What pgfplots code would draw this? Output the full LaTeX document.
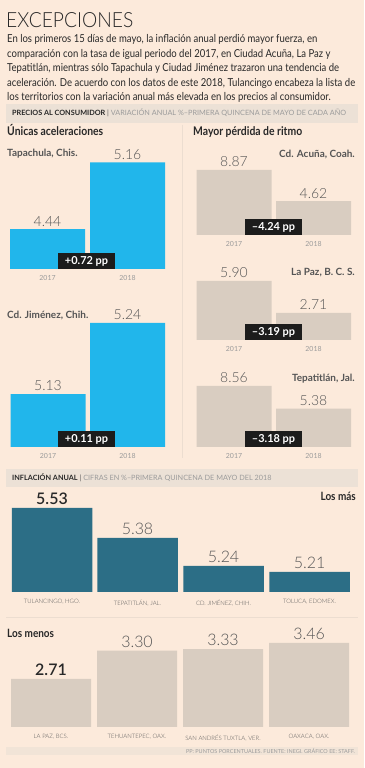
\documentclass[border=0pt]{standalone}
\usepackage{pgfplots}
\pgfplotsset{compat=1.18}
\usepackage{fontspec}
\setmainfont{Lato}
\newfontfamily\lightf{Lato Light}
\newfontfamily\titlef{Lato Light}[FakeStretch=0.92]
\newfontfamily\parafont{Lato}[FakeStretch=0.87]
\definecolor{bg}{RGB}{252,234,219}
\definecolor{band}{RGB}{236,225,214}
\definecolor{cyanbar}{RGB}{33,182,235}
\definecolor{beigebar}{RGB}{217,205,193}
\definecolor{tealbar}{RGB}{44,110,134}
\definecolor{txt}{RGB}{40,40,40}
\definecolor{gtxt}{RGB}{85,85,85}
\definecolor{ltxt}{RGB}{155,155,155}
\definecolor{boxc}{RGB}{28,28,28}
\definecolor{sepc}{RGB}{236,221,208}
\newcommand{\fs}[1]{\fontsize{#1}{#1}\selectfont}
\pgfplotsset{
  panel/.style={
    scale only axis, anchor=south west, enlargelimits=false,
    axis line style={draw=none}, ytick=\empty, major tick length=0pt,
    ybar, bar width=75bp,
    nodes near coords, point meta=explicit symbolic,
    every node near coord/.append style={anchor=center, yshift=8bp, font=\lightf\fs{14}, text=gtxt},
    xticklabel style={font=\fs{7}, text=ltxt, yshift=-3bp},
  },
  bigpanel/.style={
    panel, width=364bp, xmin=0, xmax=364, height=84bp, bar width=80.5bp,
    every node near coord/.append style={font=\lightf\fs{16}, yshift=1bp},
    xticklabel style={font=\lightf\fs{6}, text=gtxt, yshift=-1bp},
  },
}
\begin{document}
\begin{tikzpicture}[x=1bp,y=1bp]
\useasboundingbox (0,0) rectangle (364,768);
\fill[bg] (0,0) rectangle (364,768);
% title and paragraph
\node[anchor=base west, inner sep=0, font=\titlef\fs{21}, text=txt] at (6,768-28) {EXCEPCIONES};
\begin{scope}[every node/.style={anchor=base west, inner sep=0, font=\parafont\fs{11}, text=txt}]
\node at (7,768-43) {En los primeros 15 días de mayo, la inflación anual perdió mayor fuerza, en};
\node at (7,768-57.5) {comparación con la tasa de igual periodo del 2017, en Ciudad Acuña, La Paz y};
\node at (7,768-72) {Tepatitlán, mientras sólo Tapachula y Ciudad Jiménez trazaron una tendencia de};
\node at (7,768-86.5) {aceleración. De acuerdo con los datos de este 2018, Tulancingo encabeza la lista de};
\node at (7,768-101) {los territorios con la variación anual más elevada en los precios al consumidor.};
\end{scope}
% header band 1
\fill[band] (6,768-104) rectangle (358,768-123);
\node[anchor=base west, inner sep=0, font=\fs{7.3}] at (12,768-116) {\textcolor{txt}{\bfseries PRECIOS AL CONSUMIDOR} \textcolor{gtxt}{|} \textcolor{ltxt}{VARIACIÓN ANUAL \%–PRIMERA QUINCENA DE MAYO DE CADA AÑO}};
\draw[sepc, line width=0.8bp] (182,768-125) -- (182,768-458);
\node[anchor=base west, inner sep=0, font=\parafont\bfseries\fs{12}, text=txt] at (7,768-136) {Únicas aceleraciones};
\node[anchor=base west, inner sep=0, font=\parafont\bfseries\fs{12}, text=txt] at (193,768-136) {Mayor pérdida de ritmo};
\begin{scope}[every node/.style={inner sep=0, font=\bfseries\fs{10}, text=gtxt}]
\node[anchor=base west] at (7,768-156.5) {Tapachula, Chis.};
\node[anchor=base west] at (7,768-318.5) {Cd. Jiménez, Chih.};
\node[anchor=base east] at (355,768-157.5) {Cd. Acuña, Coah.};
\node[anchor=base east] at (355,768-275.5) {La Paz, B. C. S.};
\node[anchor=base east] at (355,768-381.5) {Tepatitlán, Jal.};
\end{scope}
% Tapachula
\begin{axis}[panel, at={(0bp,499bp)}, width=182bp, height=106.5bp, xmin=0, xmax=182, ymin=4.01, ymax=5.16,
  xtick={47.5,127.5}, xticklabels={2017,2018}]
\addplot[fill=cyanbar, draw=none] coordinates {(47.5,4.44) [4.44] (127.5,5.16) [5.16]};
\end{axis}
% Jimenez
\begin{axis}[panel, at={(0bp,321bp)}, width=182bp, height=124bp, xmin=0, xmax=182, ymin=5.048, ymax=5.24,
  xtick={48,127.5}, xticklabels={2017,2018}]
\addplot[fill=cyanbar, draw=none] coordinates {(48,5.13) [5.13] (127.5,5.24) [5.24]};
\end{axis}
% Acuna
\begin{axis}[panel, at={(182bp,533bp)}, width=182bp, height=65bp, xmin=182, xmax=364, ymin=0, ymax=8.87,
  xtick={234,313.5}, xticklabels={2017,2018}]
\addplot[fill=beigebar, draw=none] coordinates {(234,8.87) [8.87] (313.5,4.62) [4.62]};
\end{axis}
% La Paz
\begin{axis}[panel, at={(182bp,428bp)}, width=182bp, height=59bp, xmin=182, xmax=364, ymin=0, ymax=5.90,
  xtick={234,313.5}, xticklabels={2017,2018}]
\addplot[fill=beigebar, draw=none] coordinates {(234,5.90) [5.90] (313.5,2.71) [2.71]};
\end{axis}
% Tepatitlan
\begin{axis}[panel, at={(182bp,321bp)}, width=182bp, height=61bp, xmin=182, xmax=364, ymin=0, ymax=8.56,
  xtick={234,313.5}, xticklabels={2017,2018}]
\addplot[fill=beigebar, draw=none] coordinates {(234,8.56) [8.56] (313.5,5.38) [5.38]};
\end{axis}
% pp boxes
\begin{scope}[every node/.style={fill=boxc, text=white, font=\bfseries\fs{11}, inner sep=0, minimum width=57bp, minimum height=16bp}]
\node at (86.5,768-261.5) {+0.72 pp};
\node at (86.5,768-439.5) {+0.11 pp};
\node at (273.5,768-227) {–4.24 pp};
\node at (273.5,768-332.5) {–3.19 pp};
\node at (273.5,768-439.5) {–3.18 pp};
\end{scope}
% header band 2
\fill[band] (6,768-469) rectangle (358,768-487);
\node[anchor=base west, inner sep=0, font=\fs{7.3}] at (12,768-480.5) {\textcolor{txt}{\bfseries INFLACIÓN ANUAL} \textcolor{gtxt}{|} \textcolor{ltxt}{CIFRAS EN \%–PRIMERA QUINCENA DE MAYO DEL 2018}};
\node[anchor=base east, inner sep=0, font=\parafont\bfseries\fs{11.5}, text=txt] at (356,768-501) {Los más};
% Los mas
\begin{axis}[bigpanel, at={(0bp,176bp)}, ymin=5.11, ymax=5.53,
  xtick={52,137.5,223.5,309.5}, xticklabels={{TULANCINGO, HGO.},{TEPATITLÁN, JAL.},{CD. JIMÉNEZ, CHIH.},{TOLUCA, EDOMEX.}}]
\addplot[fill=tealbar, draw=none] coordinates {(52,5.53) [\textcolor{txt}{\bfseries 5.53}] (137.5,5.38) [5.38] (223.5,5.24) [5.24] (309.5,5.21) [5.21]};
\end{axis}
\draw[sepc, line width=0.8bp] (6,768-617) -- (358,768-617);
\node[anchor=base west, inner sep=0, font=\parafont\bfseries\fs{11.5}, text=txt] at (7,768-638) {Los menos};
% Los menos
\begin{axis}[bigpanel, at={(0bp,41bp)}, ymin=1.71, ymax=3.46, bar width=80bp,
  xtick={51,137,223,309}, xticklabels={{LA PAZ, BCS.},{TEHUANTEPEC, OAX.},{SAN ANDRÉS TUXTLA, VER.},{OAXACA, OAX.}}]
\addplot[fill=beigebar, draw=none] coordinates {(51,2.71) [\textcolor{txt}{\bfseries 2.71}] (137,3.30) [3.30] (223,3.33) [3.33] (309,3.46) [3.46]};
\end{axis}
% footer
\fill[band!70!bg] (6,768-747) rectangle (358,768-755);
\node[anchor=base east, inner sep=0, font=\fs{5.5}, text=ltxt] at (355,768-753.5) {PP: PUNTOS PORCENTUALES. FUENTE: INEGI. GRÁFICO EE: STAFF.};
\end{tikzpicture}
\end{document}
